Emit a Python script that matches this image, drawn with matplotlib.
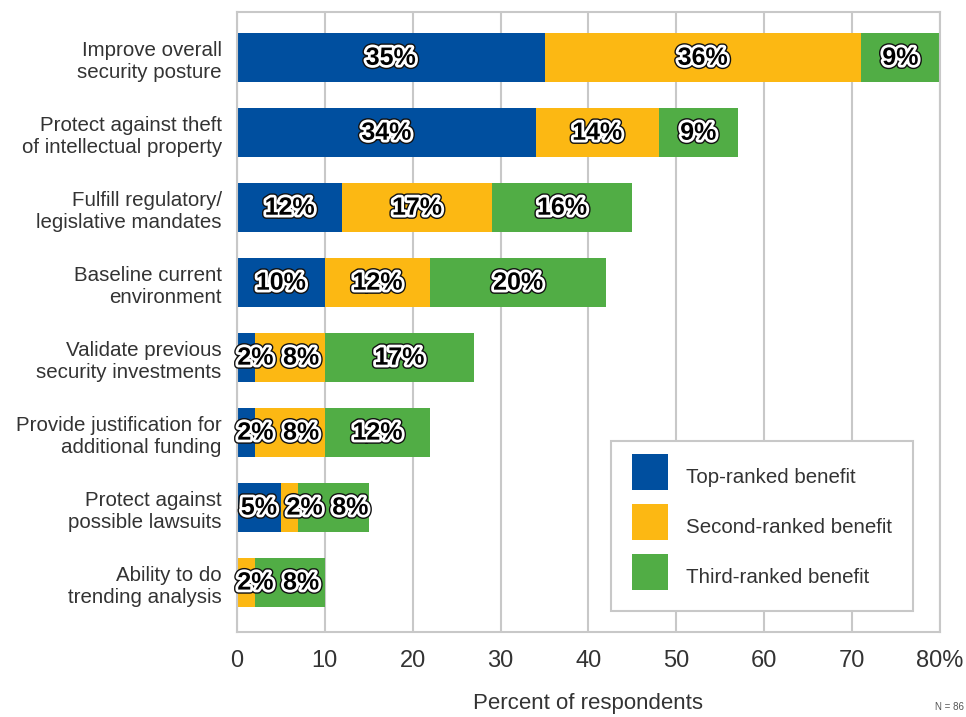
import matplotlib.pyplot as plt
import matplotlib.patheffects as pe
from matplotlib import font_manager
from matplotlib.lines import Line2D
import numpy as np

categories = [
    "Improve overall\nsecurity posture",
    "Protect against theft\nof intellectual property",
    "Fulfill regulatory/\nlegislative mandates",
    "Baseline current\nenvironment",
    "Validate previous\nsecurity investments",
    "Provide justification for\nadditional funding",
    "Protect against\npossible lawsuits",
    "Ability to do\ntrending analysis",
]
top_ranked = [35, 34, 12, 10, 2, 2, 5, 0]
second_ranked = [36, 14, 17, 12, 8, 8, 2, 2]
third_ranked = [9, 9, 16, 20, 17, 12, 8, 8]
series_names = ["Top-ranked benefit", "Second-ranked benefit", "Third-ranked benefit"]
colors = ["#004f9f", "#fcb813", "#51ad45"]
xticks = [0, 10, 20, 30, 40, 50, 60, 70, 80]
xtick_labels = ["0", "10", "20", "30", "40", "50", "60", "70", "80%"]

installed = {f.name for f in font_manager.fontManager.ttflist}
text_font = "Liberation Sans" if "Liberation Sans" in installed else "DejaVu Sans"
value_font = "Liberation Sans Narrow" if "Liberation Sans Narrow" in installed else text_font
plt.rcParams["font.family"] = [text_font, "DejaVu Sans"]

fig = plt.figure(figsize=(9.66, 7.17), dpi=100)
ax = fig.add_axes([0.2453, 0.1185, 0.7277, 0.8647])

y = np.arange(len(categories))
lefts = np.zeros(len(categories))
outline = [pe.Stroke(linewidth=6, foreground="#111111"),
           pe.Stroke(linewidth=4, foreground="white"),
           pe.Normal()]

series = [top_ranked, second_ranked, third_ranked]
for vals, name, c in zip(series, series_names, colors):
    ax.barh(y, vals, left=lefts, height=0.65, color=c, zorder=2)
    lefts += np.array(vals)

# value labels, nudged right so small segments don't overlap
for i in range(len(categories)):
    start = 0
    prev = None
    for vals in series:
        v = vals[i]
        if v > 0:
            x = start + v / 2
            x = max(x, 2.1) if prev is None else max(x, prev + 5.2)
            ax.text(x, i, f"{v}%", ha="center", va="center", fontsize=18,
                    fontweight="bold", family=[value_font, "DejaVu Sans"],
                    color="black", path_effects=outline, zorder=3)
            prev = x
        start += v

ax.set_xlim(0, 80)
ax.set_ylim(7.66, -0.61)
ax.set_xticks(xticks, xtick_labels)
ax.set_yticks(y, categories)
ax.tick_params(length=0)
ax.tick_params(axis="x", pad=13, labelsize=17, labelcolor="#333333")
ax.tick_params(axis="y", pad=11, labelsize=14.8, labelcolor="#333333")
ax.xaxis.grid(True, color="#c8c8c8", linewidth=1.5)
ax.set_axisbelow(True)
for s in ax.spines.values():
    s.set_color("#c8c8c8")
    s.set_linewidth(1.5)
ax.set_xlabel("Percent of respondents", fontsize=16, color="#333333", labelpad=15)

# square swatches for the legend
handles = [Line2D([], [], marker="s", linestyle="none", markersize=26.6,
                  markerfacecolor=c, markeredgewidth=0) for c in colors]
leg = ax.legend(handles, series_names, loc="upper left",
                bbox_to_anchor=(611 / 966, 1 - 441 / 717),
                bbox_transform=fig.transFigure, borderaxespad=0, fontsize=14.8,
                handlelength=1.78, handleheight=1.78, labelspacing=1.03,
                handletextpad=0.87, borderpad=1.0, fancybox=False,
                edgecolor="#c8c8c8", framealpha=1, labelcolor="#333333")
leg.get_frame().set_linewidth(1.5)
leg.set_zorder(5)

fig.text(0.998, 1 - 707 / 717, "N = 86", ha="right", va="center", fontsize=7, color="#555555")

fig.savefig("out.png", dpi=100)
